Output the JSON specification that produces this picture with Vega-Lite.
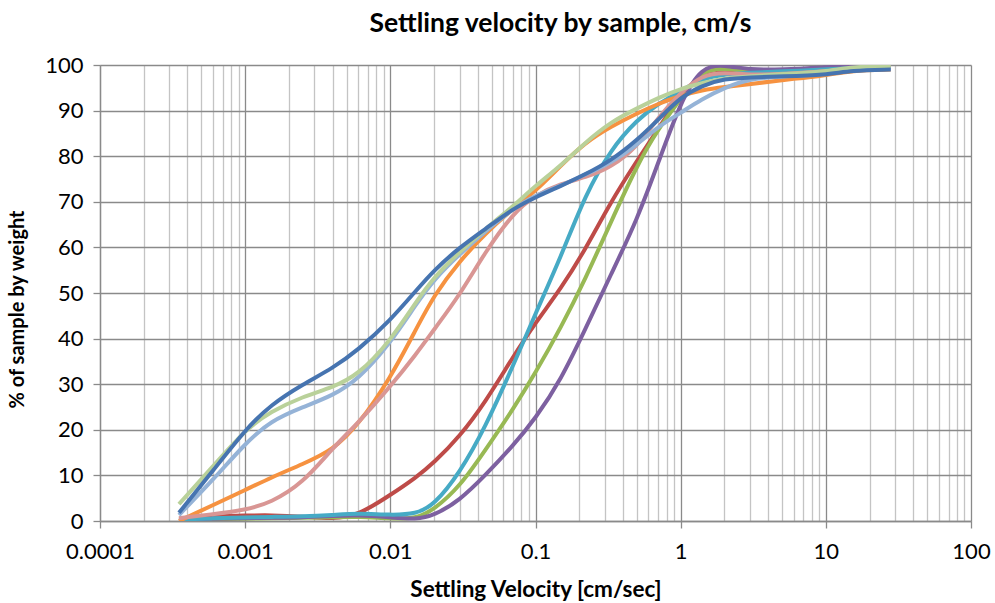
{
"$schema": "https://vega.github.io/schema/vega-lite/v6.json",
"width": 871, "height": 456,
"autosize": {"type": "none"},
"padding": {"left": 100, "top": 65, "right": 24, "bottom": 82},
"background": "white",
"title": {"text": "Settling velocity by sample, cm/s", "font": "Lato", "fontSize": 26.5, "fontWeight": "bold", "color": "#000000", "anchor": "middle", "dx": 25, "offset": 17},
"config": {"view": {"stroke": null}},
"data": {"values": [
{"s":"S1","v":0.00035,"p":0.5},{"s":"S1","v":0.0006,"p":1},{"s":"S1","v":0.001,"p":1.2},{"s":"S1","v":0.0015,"p":1.3},{"s":"S1","v":0.0025,"p":1.0},{"s":"S1","v":0.004,"p":0.4},{"s":"S1","v":0.006,"p":1.2},{"s":"S1","v":0.01,"p":5.7},{"s":"S1","v":0.015,"p":9.5},{"s":"S1","v":0.02,"p":12.8},{"s":"S1","v":0.03,"p":18.5},{"s":"S1","v":0.045,"p":26},{"s":"S1","v":0.07,"p":36},{"s":"S1","v":0.1,"p":43.5},{"s":"S1","v":0.15,"p":51},{"s":"S1","v":0.22,"p":59.5},{"s":"S1","v":0.33,"p":70},{"s":"S1","v":0.5,"p":79},{"s":"S1","v":0.7,"p":86},{"s":"S1","v":1,"p":93.5},{"s":"S1","v":1.4,"p":98},{"s":"S1","v":2,"p":98.5},{"s":"S1","v":3,"p":98},{"s":"S1","v":5,"p":98.3},{"s":"S1","v":10,"p":99},{"s":"S1","v":15,"p":99.5},{"s":"S1","v":28,"p":99.6},
{"s":"S2","v":0.00035,"p":0.2},{"s":"S2","v":0.0006,"p":0.4},{"s":"S2","v":0.001,"p":0.5},{"s":"S2","v":0.0015,"p":0.6},{"s":"S2","v":0.0025,"p":0.7},{"s":"S2","v":0.004,"p":0.8},{"s":"S2","v":0.006,"p":1.0},{"s":"S2","v":0.01,"p":0.5},{"s":"S2","v":0.015,"p":0.5},{"s":"S2","v":0.02,"p":2.5},{"s":"S2","v":0.03,"p":7.5},{"s":"S2","v":0.045,"p":15.5},{"s":"S2","v":0.07,"p":24.5},{"s":"S2","v":0.1,"p":32.5},{"s":"S2","v":0.15,"p":42.5},{"s":"S2","v":0.22,"p":53},{"s":"S2","v":0.33,"p":65.5},{"s":"S2","v":0.5,"p":78},{"s":"S2","v":0.7,"p":86},{"s":"S2","v":1,"p":92.5},{"s":"S2","v":1.4,"p":99},{"s":"S2","v":2,"p":99.3},{"s":"S2","v":3,"p":98.5},{"s":"S2","v":5,"p":98.8},{"s":"S2","v":10,"p":99.2},{"s":"S2","v":15,"p":99.7},{"s":"S2","v":28,"p":99.8},
{"s":"S3","v":0.00035,"p":0.3},{"s":"S3","v":0.0006,"p":0.5},{"s":"S3","v":0.001,"p":0.6},{"s":"S3","v":0.0015,"p":0.7},{"s":"S3","v":0.0025,"p":0.8},{"s":"S3","v":0.004,"p":1.1},{"s":"S3","v":0.006,"p":1.3},{"s":"S3","v":0.01,"p":0.8},{"s":"S3","v":0.015,"p":0.3},{"s":"S3","v":0.02,"p":1.2},{"s":"S3","v":0.03,"p":4.5},{"s":"S3","v":0.045,"p":10},{"s":"S3","v":0.07,"p":16.5},{"s":"S3","v":0.1,"p":22.5},{"s":"S3","v":0.15,"p":31},{"s":"S3","v":0.22,"p":42},{"s":"S3","v":0.33,"p":54},{"s":"S3","v":0.5,"p":66},{"s":"S3","v":0.7,"p":78.5},{"s":"S3","v":1,"p":92},{"s":"S3","v":1.4,"p":99.8},{"s":"S3","v":2,"p":100},{"s":"S3","v":3,"p":98.9},{"s":"S3","v":5,"p":99},{"s":"S3","v":10,"p":99.5},{"s":"S3","v":15,"p":99.8},{"s":"S3","v":28,"p":100},
{"s":"S4","v":0.00035,"p":0.3},{"s":"S4","v":0.0006,"p":0.6},{"s":"S4","v":0.001,"p":0.8},{"s":"S4","v":0.0015,"p":0.9},{"s":"S4","v":0.0025,"p":1.0},{"s":"S4","v":0.004,"p":1.3},{"s":"S4","v":0.006,"p":1.7},{"s":"S4","v":0.01,"p":1.3},{"s":"S4","v":0.015,"p":1.5},{"s":"S4","v":0.02,"p":3.5},{"s":"S4","v":0.03,"p":10.5},{"s":"S4","v":0.045,"p":20.5},{"s":"S4","v":0.07,"p":34},{"s":"S4","v":0.1,"p":45.5},{"s":"S4","v":0.15,"p":58},{"s":"S4","v":0.22,"p":71.5},{"s":"S4","v":0.33,"p":81.5},{"s":"S4","v":0.5,"p":88},{"s":"S4","v":0.7,"p":91.5},{"s":"S4","v":1,"p":94.3},{"s":"S4","v":1.4,"p":97},{"s":"S4","v":2,"p":98},{"s":"S4","v":3,"p":98.3},{"s":"S4","v":5,"p":98.6},{"s":"S4","v":10,"p":99},{"s":"S4","v":15,"p":99.4},{"s":"S4","v":28,"p":99.5},
{"s":"S5","v":0.00035,"p":0},{"s":"S5","v":0.0006,"p":3.5},{"s":"S5","v":0.001,"p":6.8},{"s":"S5","v":0.0015,"p":9.5},{"s":"S5","v":0.0025,"p":12.5},{"s":"S5","v":0.004,"p":15.5},{"s":"S5","v":0.006,"p":21},{"s":"S5","v":0.01,"p":31.3},{"s":"S5","v":0.015,"p":42},{"s":"S5","v":0.02,"p":49.5},{"s":"S5","v":0.03,"p":57},{"s":"S5","v":0.045,"p":63},{"s":"S5","v":0.07,"p":68.5},{"s":"S5","v":0.1,"p":72.3},{"s":"S5","v":0.15,"p":78},{"s":"S5","v":0.22,"p":83},{"s":"S5","v":0.33,"p":86.5},{"s":"S5","v":0.5,"p":89.4},{"s":"S5","v":0.7,"p":91.5},{"s":"S5","v":1,"p":93.3},{"s":"S5","v":1.4,"p":94.5},{"s":"S5","v":2,"p":95.2},{"s":"S5","v":3,"p":95.8},{"s":"S5","v":5,"p":96.7},{"s":"S5","v":10,"p":97.7},{"s":"S5","v":15,"p":98.8},{"s":"S5","v":28,"p":99},
{"s":"S6","v":0.00035,"p":0.6},{"s":"S6","v":0.0006,"p":1.5},{"s":"S6","v":0.001,"p":2.4},{"s":"S6","v":0.0015,"p":4},{"s":"S6","v":0.0025,"p":8.3},{"s":"S6","v":0.004,"p":16},{"s":"S6","v":0.006,"p":21.5},{"s":"S6","v":0.01,"p":29.5},{"s":"S6","v":0.015,"p":36.5},{"s":"S6","v":0.02,"p":42},{"s":"S6","v":0.03,"p":49.5},{"s":"S6","v":0.045,"p":59},{"s":"S6","v":0.07,"p":67.5},{"s":"S6","v":0.1,"p":71.5},{"s":"S6","v":0.15,"p":74},{"s":"S6","v":0.22,"p":75.3},{"s":"S6","v":0.33,"p":77.5},{"s":"S6","v":0.5,"p":82},{"s":"S6","v":0.7,"p":88.5},{"s":"S6","v":1,"p":94},{"s":"S6","v":1.4,"p":97.8},{"s":"S6","v":2,"p":98.4},{"s":"S6","v":3,"p":97.8},{"s":"S6","v":5,"p":98},{"s":"S6","v":10,"p":98.6},{"s":"S6","v":15,"p":99.3},{"s":"S6","v":28,"p":99.5},
{"s":"S7","v":0.00035,"p":1.3},{"s":"S7","v":0.0006,"p":9},{"s":"S7","v":0.001,"p":17},{"s":"S7","v":0.0015,"p":22},{"s":"S7","v":0.0025,"p":25},{"s":"S7","v":0.004,"p":27.5},{"s":"S7","v":0.006,"p":31},{"s":"S7","v":0.01,"p":39},{"s":"S7","v":0.015,"p":47.5},{"s":"S7","v":0.02,"p":53},{"s":"S7","v":0.03,"p":58.5},{"s":"S7","v":0.045,"p":63.5},{"s":"S7","v":0.07,"p":68.5},{"s":"S7","v":0.1,"p":71.5},{"s":"S7","v":0.15,"p":73.5},{"s":"S7","v":0.22,"p":76},{"s":"S7","v":0.33,"p":78.5},{"s":"S7","v":0.5,"p":82.5},{"s":"S7","v":0.7,"p":86.5},{"s":"S7","v":1,"p":89.5},{"s":"S7","v":1.4,"p":92.5},{"s":"S7","v":2,"p":95},{"s":"S7","v":3,"p":97},{"s":"S7","v":5,"p":97.5},{"s":"S7","v":10,"p":98},{"s":"S7","v":15,"p":99},{"s":"S7","v":28,"p":99.3},
{"s":"S8","v":0.00035,"p":3.7},{"s":"S8","v":0.0006,"p":12},{"s":"S8","v":0.001,"p":20},{"s":"S8","v":0.0015,"p":24},{"s":"S8","v":0.0025,"p":27.3},{"s":"S8","v":0.004,"p":29.3},{"s":"S8","v":0.006,"p":32},{"s":"S8","v":0.01,"p":39.5},{"s":"S8","v":0.015,"p":48},{"s":"S8","v":0.02,"p":53.5},{"s":"S8","v":0.03,"p":59},{"s":"S8","v":0.045,"p":64},{"s":"S8","v":0.07,"p":69},{"s":"S8","v":0.1,"p":73.5},{"s":"S8","v":0.15,"p":78},{"s":"S8","v":0.22,"p":83},{"s":"S8","v":0.33,"p":87.5},{"s":"S8","v":0.5,"p":90.5},{"s":"S8","v":0.7,"p":92.8},{"s":"S8","v":1,"p":94.8},{"s":"S8","v":1.4,"p":96},{"s":"S8","v":2,"p":97.1},{"s":"S8","v":3,"p":97.5},{"s":"S8","v":5,"p":98},{"s":"S8","v":10,"p":98.5},{"s":"S8","v":15,"p":99.6},{"s":"S8","v":28,"p":99.8},
{"s":"S9","v":0.00035,"p":1.8},{"s":"S9","v":0.0006,"p":11},{"s":"S9","v":0.001,"p":20},{"s":"S9","v":0.0015,"p":25.5},{"s":"S9","v":0.0025,"p":30},{"s":"S9","v":0.004,"p":33.5},{"s":"S9","v":0.006,"p":37.5},{"s":"S9","v":0.01,"p":44},{"s":"S9","v":0.015,"p":50.5},{"s":"S9","v":0.02,"p":55},{"s":"S9","v":0.03,"p":60},{"s":"S9","v":0.045,"p":64},{"s":"S9","v":0.07,"p":68.5},{"s":"S9","v":0.1,"p":71},{"s":"S9","v":0.15,"p":73.5},{"s":"S9","v":0.22,"p":76},{"s":"S9","v":0.33,"p":79},{"s":"S9","v":0.5,"p":83.5},{"s":"S9","v":0.7,"p":88},{"s":"S9","v":1,"p":93},{"s":"S9","v":1.4,"p":95.5},{"s":"S9","v":2,"p":97},{"s":"S9","v":3,"p":97.3},{"s":"S9","v":5,"p":97.5},{"s":"S9","v":10,"p":97.8},{"s":"S9","v":15,"p":98.8},{"s":"S9","v":28,"p":99}
]},
"mark": {"type": "line", "interpolate": "basis", "strokeWidth": 4, "clip": true},
"encoding": {
  "x": {"field": "v", "type": "quantitative",
    "scale": {"type": "log", "domain": [0.0001, 100], "nice": false},
    "axis": {
      "values": [0.0001,0.0002,0.0003,0.0004,0.0005,0.0006,0.0007,0.0008,0.0009,0.001,0.002,0.003,0.004,0.005,0.006,0.007,0.008,0.009,0.01,0.02,0.03,0.04,0.05,0.06,0.07,0.08,0.09,0.1,0.2,0.3,0.4,0.5,0.6,0.7,0.8,0.9,1,2,3,4,5,6,7,8,9,10,20,30,40,50,60,70,80,90,100],
      "format": "~g",
      "labelExpr": "abs(log(datum.value)/LN10 - round(log(datum.value)/LN10)) < 0.001 ? datum.label : ''",
      "title": "Settling Velocity [cm/sec]",
      "titleFont": "Lato", "titleFontSize": 22.5, "titleFontWeight": "bold", "titleColor": "#000000", "titlePadding": 16,
      "labelFont": "Lato", "labelFontSize": 22, "labelColor": "#000000", "labelPadding": 13, "labelOverlap": false, "labelFlush": false,
      "grid": true,
      "gridColor": {"condition": {"test": "abs(log(datum.value)/LN10 - round(log(datum.value)/LN10)) < 0.001", "value": "#8a8a8a"}, "value": "#c4c4c4"},
      "gridWidth": 1.3,
      "tickSize": 7, "tickWidth": 1.3,
      "tickOpacity": {"condition": {"test": "abs(log(datum.value)/LN10 - round(log(datum.value)/LN10)) < 0.001", "value": 1}, "value": 0},
      "tickColor": "#8a8a8a",
      "domainColor": "#8a8a8a", "domainWidth": 1.3
    }},
  "y": {"field": "p", "type": "quantitative",
    "scale": {"domain": [0, 100], "nice": false},
    "axis": {
      "values": [0,10,20,30,40,50,60,70,80,90,100],
      "title": "% of sample by weight",
      "titleFont": "Lato", "titleFontSize": 20, "titleFontWeight": "bold", "titleColor": "#000000", "titlePadding": 17, "titleY": 244,
      "labelFont": "Lato", "labelFontSize": 22, "labelColor": "#000000", "labelPadding": 10,
      "grid": true, "gridColor": "#8a8a8a", "gridWidth": 1.3,
      "tickSize": 7, "tickWidth": 1.3, "tickColor": "#8a8a8a",
      "domainColor": "#8a8a8a", "domainWidth": 1.3
    }},
  "color": {"field": "s", "type": "nominal",
    "scale": {"domain": ["S1","S2","S3","S4","S5","S6","S7","S8","S9"],
              "range": ["#BE4B48","#98B954","#7D60A0","#46AAC5","#F69240","#D99694","#95B3D7","#B9D19A","#4674B0"]},
    "legend": null}
}
}
